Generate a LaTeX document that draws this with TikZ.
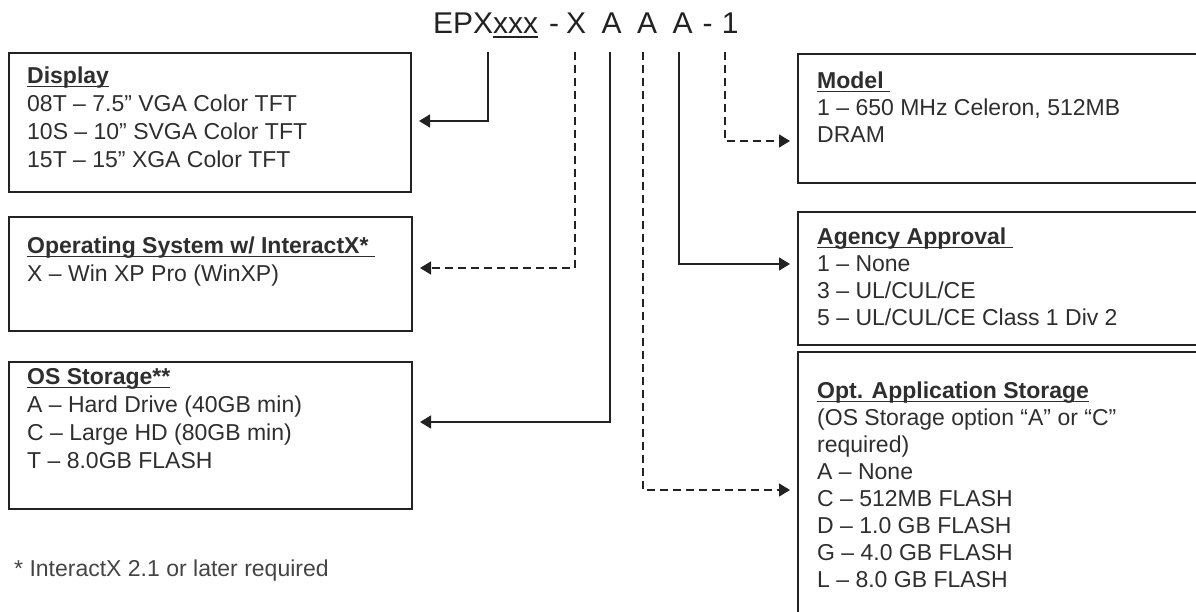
\documentclass[tikz,border=0pt]{standalone}
\usepackage{fontspec}
\setmainfont{Liberation Sans}
\usetikzlibrary{arrows.meta}
\definecolor{ink}{HTML}{222222}
\definecolor{txt}{HTML}{444444}
\definecolor{hdc}{HTML}{2E2E2E}
\newcommand\hd[1]{\rule{0pt}{20pt}\setbox0\hbox{\color{hdc}\bfseries #1}\rlap{\color{hdc}\rule[-4pt]{\wd0}{1.4pt}}\box0}
\newcommand\ttl[1]{\setbox0\hbox{#1}\rlap{\rule[-4pt]{\wd0}{1.5pt}}\box0}
\newcommand\ch[2]{\hspace{#1pt}\makebox[0pt][c]{#2}}
\begin{document}
\begin{tikzpicture}[x=1pt,y=-1pt,
  box/.style={draw=ink, line width=1.4pt, inner sep=0pt, outer sep=0pt, anchor=north west},
  lbl/.style={anchor=north west, inner sep=0pt, align=left, text=txt},
  lfont/.style={font=\fontsize{23}{28}\selectfont},
  rfont/.style={font=\fontsize{23}{27}\selectfont},
  conn/.style={draw=ink, line width=1.4pt, -{Triangle[length=11pt,width=13pt]}, shorten >=8pt},
  dsh/.style={dash pattern=on 8pt off 5pt}
]
\useasboundingbox (0,0) rectangle (1196,612);

% title
\node[anchor=base west, inner sep=0pt, font=\fontsize{30}{30}\selectfont, text=ink] (title) at (433,34)
  {EPX\ttl{xxx}\ch{16}{-}\ch{22}{X}\ch{35.5}{A}\ch{35.5}{A}\ch{35.5}{A}\ch{25}{-}\ch{22.5}{1}};

% boxes
\node[box, minimum width=402pt, minimum height=139pt] (bDisp) at (9,53) {};
\node[box, minimum width=403pt, minimum height=114pt] (bOS) at (9,217) {};
\node[box, minimum width=403pt, minimum height=147pt] (bStor) at (9,362) {};
\node[box, minimum width=420pt, minimum height=129pt] (bModel) at (798,54) {};
\node[box, minimum width=420pt, minimum height=133pt] (bAgency) at (798,212) {};
\node[box, minimum width=420pt, minimum height=300pt] (bOpt) at (798,352) {};

% texts
\node[lbl, lfont] (tDisp) at (27,63)
  {\hd{Display}\\08T – 7.5” VGA Color TFT\\10S – 10” SVGA Color TFT\\15T – 15” XGA Color TFT};
\node[lbl, lfont] (tOS) at (27,233)
  {\hd{Operating System w/ InteractX*\ }\\X – Win XP Pro (WinXP)};
\node[lbl, lfont] (tStor) at (27,364)
  {\hd{OS Storage**}\\A – Hard Drive (40GB min)\\C – Large HD (80GB min)\\T – 8.0GB FLASH};
\node[lbl, rfont] (tModel) at (817,68)
  {\hd{Model\ }\\1 – 650 MHz Celeron, 512MB\\DRAM};
\node[lbl, rfont] (tAgency) at (817,224)
  {\hd{Agency Approval\ }\\1 – None\\3 – UL/CUL/CE\\5 – UL/CUL/CE Class 1 Div 2};
\node[lbl, rfont] (tOpt) at (817,378)
  {\hd{Opt. Application Storage}\\(OS Storage option “A” or “C”\\required)\\A – None\\C – 512MB FLASH\\D – 1.0 GB FLASH\\G – 4.0 GB FLASH\\L – 8.0 GB FLASH};
\node[anchor=base west, inner sep=0pt, text=txt, font=\fontsize{23}{27}\selectfont] (foot) at (14,576)
  {* InteractX 2.1 or later required};

% connector starts
\coordinate (sDisp) at (488,52);
\coordinate (sOS) at (575,52);
\coordinate (sStor) at (610,52);
\coordinate (sOpt) at (643,52);
\coordinate (sAgency) at (679,52);
\coordinate (sModel) at (725,52);

\draw[conn] (sDisp) |- (bDisp.east |- 0,121);
\draw[conn, dsh] (sOS) |- (bOS.east |- 0,268);
\draw[conn] (sStor) |- (bStor.east |- 0,422);
\draw[conn, dsh] (sOpt) |- (bOpt.west |- 0,490);
\draw[conn] (sAgency) |- (bAgency.west |- 0,264);
\draw[conn, dsh] (sModel) |- (bModel.west |- 0,141);
\end{tikzpicture}
\end{document}
